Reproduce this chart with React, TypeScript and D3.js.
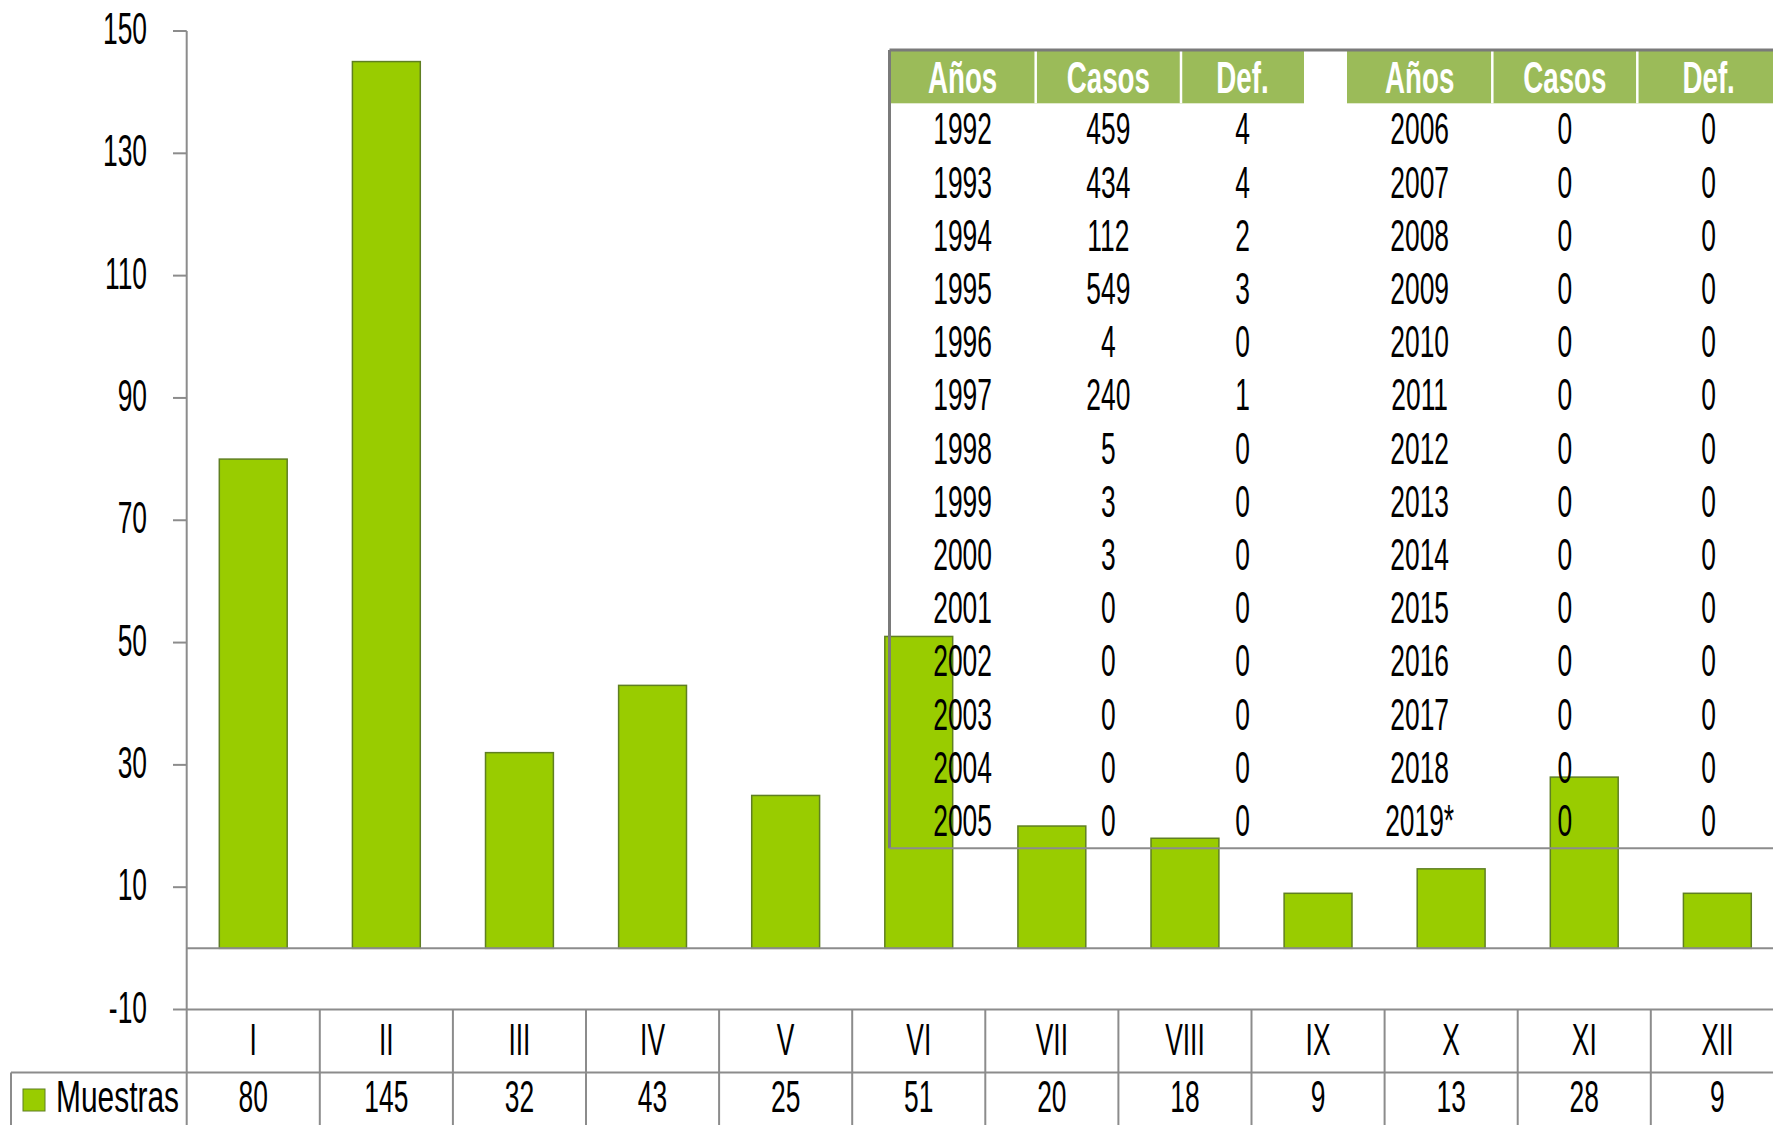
import React from "react";
import * as d3 from "d3";

const months = ["I", "II", "III", "IV", "V", "VI", "VII", "VIII", "IX", "X", "XI", "XII"];
const muestras = [80, 145, 32, 43, 25, 51, 20, 18, 9, 13, 28, 9];
const yTicks = [-10, 10, 30, 50, 70, 90, 110, 130, 150];
const seriesName = "Muestras";

const tableHeaders = ["Años", "Casos", "Def."];
const yearsLeft = ["1992", "1993", "1994", "1995", "1996", "1997", "1998", "1999", "2000", "2001", "2002", "2003", "2004", "2005"];
const casosLeft = [459, 434, 112, 549, 4, 240, 5, 3, 3, 0, 0, 0, 0, 0];
const defLeft = [4, 4, 2, 3, 0, 1, 0, 0, 0, 0, 0, 0, 0, 0];
const yearsRight = ["2006", "2007", "2008", "2009", "2010", "2011", "2012", "2013", "2014", "2015", "2016", "2017", "2018", "2019*"];
const casosRight = [0, 0, 0, 0, 0, 0, 0, 0, 0, 0, 0, 0, 0, 0];
const defRight = [0, 0, 0, 0, 0, 0, 0, 0, 0, 0, 0, 0, 0, 0];

const W = 1773;
const H = 1125;
const FONT = "'Liberation Sans', Arial, sans-serif";
const FS = 44;
const SX = 0.6;
const AX = "#8c8c8c";
const GREEN = "#99CC00";
const BAR_STROKE = "#5f7f22";
const HEAD = "#9BBB59";

const T = ({ x, y, s = SX, anchor = "middle", bold = false, fill = "#000", children }: any) => (
  <text
    transform={`translate(${x},${y}) scale(${s},1)`}
    textAnchor={anchor}
    fontFamily={FONT}
    fontSize={FS}
    fontWeight={bold ? "bold" : "normal"}
    fill={fill}
  >
    {children}
  </text>
);

export default function App() {
  const left = 186.7;
  const right = left + 12 * 133.1;
  const x = d3.scaleBand<string>().domain(months).range([left, right]).paddingInner(0.49).paddingOuter(0.245);
  const xc = d3.scaleBand<string>().domain(months).range([left, right]).padding(0);
  const y = d3.scaleLinear().domain([-10, 150]).range([1009.5, 31]);
  const y0 = y(0);
  const rowTop = 1072.5;

  const tTop = 50;
  const tHeadBot = 103.3;
  const tBot = 848.3;
  const tLeft = 889.5;
  const colsL = [889.5, 1035.7, 1181, 1304];
  const colsR = [1347, 1492.3, 1637.3, 1780];
  const rowH = (tBot - tHeadBot) / yearsLeft.length;

  const centers = (c: number[]) => [0, 1, 2].map((i) => (c[i] + c[i + 1]) / 2);
  const cl = centers(colsL);
  const cr = centers(colsR);

  return (
    <svg width={W} height={H} style={{ position: "absolute", left: 0, top: 0, background: "#fff" }}>
      {muestras.map((v, i) => (
        <rect
          key={months[i]}
          x={x(months[i])}
          y={y(v)}
          width={x.bandwidth()}
          height={y0 - y(v)}
          fill={GREEN}
          stroke={BAR_STROKE}
          strokeWidth={1.5}
        />
      ))}

      <line x1={left} x2={left} y1={y(150)} y2={H} stroke={AX} strokeWidth={2} />
      {yTicks.map((t) => (
        <g key={t}>
          <line x1={173} x2={left} y1={y(t)} y2={y(t)} stroke={AX} strokeWidth={2} />
          <T x={147} y={y(t) + 13} anchor="end">{t}</T>
        </g>
      ))}
      <line x1={left} x2={W} y1={y0} y2={y0} stroke={AX} strokeWidth={2} />
      <line x1={left} x2={W} y1={y(-10)} y2={y(-10)} stroke={AX} strokeWidth={2} />
      <line x1={11} x2={W} y1={rowTop} y2={rowTop} stroke={AX} strokeWidth={2} />
      <line x1={11} x2={11} y1={rowTop} y2={H} stroke={AX} strokeWidth={2} />
      {months.map((m) => (
        <line
          key={"v" + m}
          x1={(xc(m) as number) + xc.bandwidth()}
          x2={(xc(m) as number) + xc.bandwidth()}
          y1={y(-10)}
          y2={H}
          stroke={AX}
          strokeWidth={2}
        />
      ))}
      {months.map((m, i) => (
        <g key={"l" + m}>
          <T x={(xc(m) as number) + xc.bandwidth() / 2} y={1055}>{m}</T>
          <T x={(xc(m) as number) + xc.bandwidth() / 2} y={1112}>{muestras[i]}</T>
        </g>
      ))}
      <rect x={23} y={1089} width={22} height={22} fill={GREEN} stroke={BAR_STROKE} strokeWidth={1} />
      <T x={56} y={1112} anchor="start" s={0.68}>{seriesName}</T>

      <rect x={colsL[0]} y={tTop} width={colsL[3] - colsL[0]} height={tHeadBot - tTop} fill={HEAD} />
      <rect x={colsR[0]} y={tTop} width={colsR[3] - colsR[0]} height={tHeadBot - tTop} fill={HEAD} />
      {[colsL[1], colsL[2], colsR[1], colsR[2]].map((cx) => (
        <line key={"s" + cx} x1={cx} x2={cx} y1={tTop} y2={tHeadBot} stroke="#fff" strokeWidth={2.5} />
      ))}
      {tableHeaders.map((h, i) => (
        <g key={"h" + h}>
          <T x={cl[i]} y={93} bold fill="#fff" s={0.63}>{h}</T>
          <T x={cr[i]} y={93} bold fill="#fff" s={0.63}>{h}</T>
        </g>
      ))}
      {yearsLeft.map((yr, i) => {
        const by = tHeadBot + i * rowH + 41;
        return (
          <g key={"r" + yr}>
            <T x={cl[0]} y={by}>{yr}</T>
            <T x={cl[1]} y={by}>{casosLeft[i]}</T>
            <T x={cl[2]} y={by}>{defLeft[i]}</T>
            <T x={cr[0]} y={by}>{yearsRight[i]}</T>
            <T x={cr[1]} y={by}>{casosRight[i]}</T>
            <T x={cr[2]} y={by}>{defRight[i]}</T>
          </g>
        );
      })}
      <line x1={tLeft} x2={W} y1={tTop} y2={tTop} stroke="#7a7a7a" strokeWidth={3} />
      <line x1={tLeft} x2={tLeft} y1={tTop} y2={tBot} stroke="#7a7a7a" strokeWidth={3} />
      <line x1={tLeft} x2={W} y1={tBot} y2={tBot} stroke={AX} strokeWidth={2} />
    </svg>
  );
}
